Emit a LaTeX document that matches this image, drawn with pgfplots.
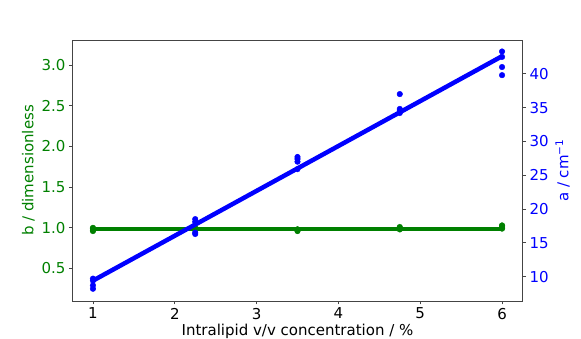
\documentclass[border=0pt]{standalone}
\usepackage{fontspec}
\setmainfont{DejaVu Sans}
\usepackage{pgfplots}
\pgfplotsset{compat=1.18}
\definecolor{mplgreen}{HTML}{008000}
\definecolor{mplblue}{HTML}{0000FF}
\definecolor{spine}{HTML}{444444}

\newcommand{\mplfont}{\fontsize{15}{18}\selectfont}
\pgfplotsset{
  twin/.style={
    scale only axis, width=450pt, height=261pt,
    at={(0,0)}, anchor=south west,
    xmin=0.75, xmax=6.25,
    tick align=outside, major tick length=3.5pt,
    axis line style={spine, line width=0.8pt},
    every tick/.style={spine, line width=0.8pt},
    tick label style={font=\mplfont},
    /pgf/number format/assume math mode=true,
  }
}

\begin{document}
\begin{tikzpicture}
\useasboundingbox (-72.5pt,-38pt) rectangle (508.5pt,301pt);
% left axis: b
\begin{axis}[twin,
    axis lines=box, xtick pos=bottom, ytick pos=left,
    ymin=0.10, ymax=3.31,
    xtick={1,2,3,4,5,6},
    ytick={0.5,1.0,1.5,2.0,2.5,3.0},
    yticklabel style={text=mplgreen, /pgf/number format/fixed, /pgf/number format/fixed zerofill, /pgf/number format/precision=1},
    xlabel={Intralipid v/v concentration / \%},
    ylabel={b / dimensionless},
    xlabel style={font=\mplfont, yshift=2.5pt},
    ylabel style={font=\mplfont, text=mplgreen},
]
\addplot[only marks, mark=*, mark size=2.8pt, mplgreen] coordinates {
  (1,0.96) (1,0.97) (1,0.99) (1,1.00)
  (2.25,0.97) (2.25,0.98) (2.25,0.99) (2.25,1.00)
  (3.5,0.96) (3.5,0.97) (3.5,0.98) (3.5,0.98)
  (4.75,0.98) (4.75,0.99) (4.75,1.00) (4.75,1.01)
  (6,0.99) (6,1.00) (6,1.02) (6,1.03)
};
\addplot[mplgreen, line width=4.5pt, no marks] coordinates {(1,0.985) (6,0.985)};
\end{axis}
% right axis: a
\begin{axis}[twin,
    axis y line*=right, axis x line=none,
    ymin=6.39, ymax=45.0,
    ytick={10,15,20,25,30,35,40},
    yticklabel style={text=mplblue},
    ylabel={a / cm\textsuperscript{−1}},
    ylabel style={font=\mplfont, text=mplblue},
]
\addplot[only marks, mark=*, mark size=2.8pt, mplblue] coordinates {
  (1,9.7) (1,9.4) (1,8.7) (1,8.2)
  (2.25,18.5) (2.25,18.1) (2.25,16.5) (2.25,16.3)
  (3.5,27.7) (3.5,27.4) (3.5,27.0) (3.5,25.9)
  (4.75,37.0) (4.75,34.8) (4.75,34.5) (4.75,34.2)
  (6,43.3) (6,42.5) (6,41.0) (6,39.8)
};
\addplot[mplblue, line width=4.5pt, no marks] coordinates {(1,9.4) (6,42.6)};
\end{axis}
\end{tikzpicture}
\end{document}
